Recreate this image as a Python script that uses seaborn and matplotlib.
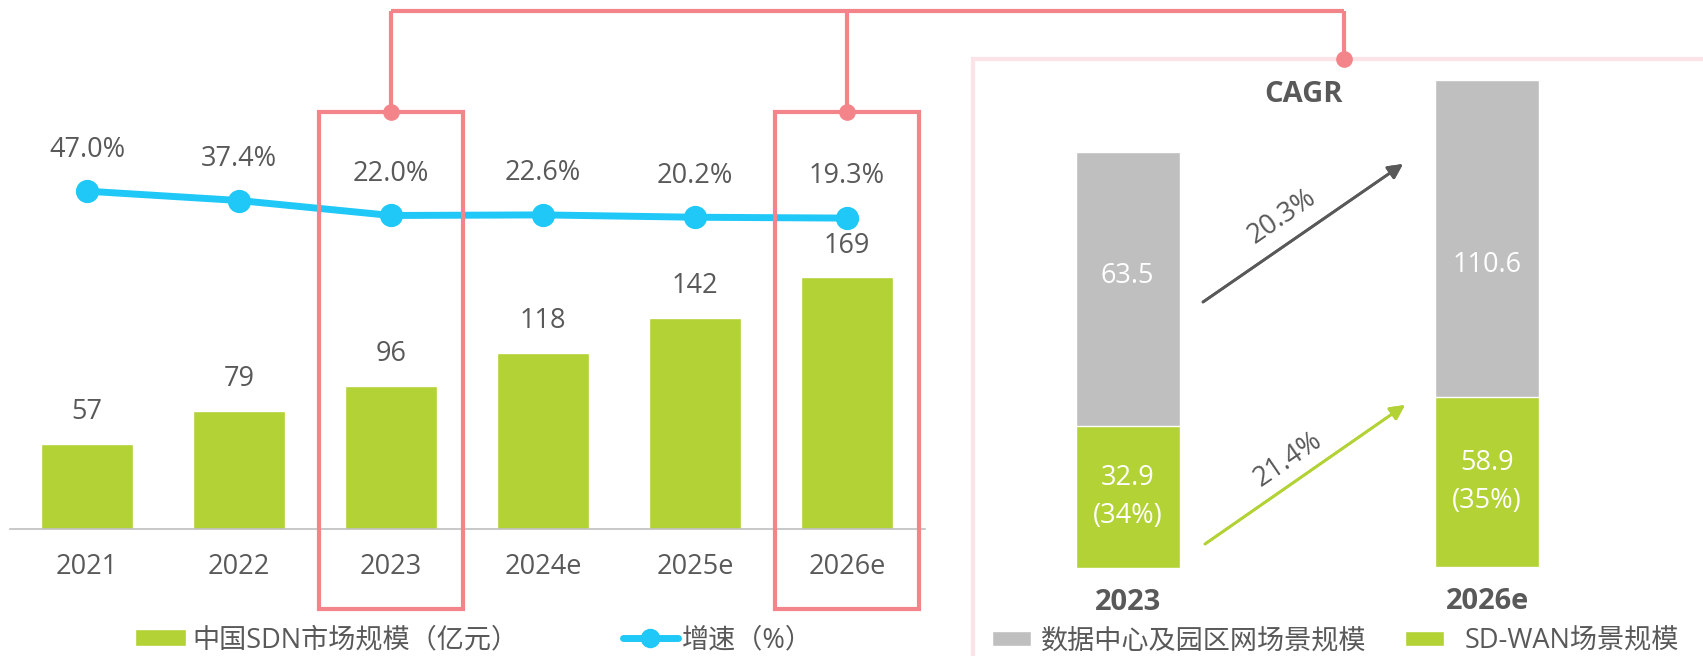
import seaborn as sns
import matplotlib.pyplot as plt
import matplotlib.transforms as mtransforms
from matplotlib.patches import Patch, Rectangle
from matplotlib.lines import Line2D
import pandas as pd

# 数据
years = ['2021', '2022', '2023', '2024e', '2025e', '2026e']
sdn_market = [57, 79, 96, 118, 142, 169]          # 中国SDN市场规模（亿元）
growth = [47.0, 37.4, 22.0, 22.6, 20.2, 19.3]     # 增速（%）

split_years = ['2023', '2026e']
dc_campus = [63.5, 110.6]    # 数据中心及园区网场景规模
sd_wan = [32.9, 58.9]        # SD-WAN场景规模
cagr_labels = ['20.3%', '21.4%']

# 颜色
green = '#B2D235'
blue = '#1FC8F7'
gray = '#BFBFBF'
red = '#F3858A'
pink = '#FCE3E7'
text_c = '#595959'

sns.set_theme(style='white')
plt.rcParams['font.family'] = ['Open Sans', 'Noto Sans CJK SC', 'DejaVu Sans']
FS = 19.5

W, H = 1703, 656
fig = plt.figure(figsize=(W / 100, H / 100), dpi=100)


def fx(x):
    return x / W


def fy(y):
    return 1 - y / H


# ---------------- 左图：柱状 + 折线 ----------------
df = pd.DataFrame({'year': years, 'market': sdn_market, 'growth': growth})

ax = fig.add_axes([fx(10), fy(528.5), (925 - 10) / W, (528.5 - 100) / H])
sns.barplot(data=df, x='year', y='market', color=green, width=0.61,
            saturation=1, ax=ax)
ax.set_xlim(-0.507, 5.513)
ax.set_ylim(0, 288.5)
ax.set_xlabel('')
ax.set_ylabel('')
ax.set_yticks([])
for s in ['top', 'left', 'right']:
    ax.spines[s].set_visible(False)
ax.spines['bottom'].set_color(gray)
ax.spines['bottom'].set_linewidth(1.2)
ax.tick_params(axis='x', length=0, pad=17.5, labelsize=FS, labelcolor=text_c)
for i, v in enumerate(df['market']):
    ax.annotate(str(v), (i, v), xytext=(0, 23), textcoords='offset points',
                ha='center', va='center', fontsize=FS, color=text_c)

ax2 = ax.twinx()
sns.pointplot(data=df, x='year', y='growth', color=blue, markers='o',
              errorbar=None, markersize=13, linewidth=5, ax=ax2)
ax2.set_ylim(-300, 140.8)
ax2.set_xlim(-0.507, 5.513)
ax2.set_yticks([])
ax2.set_ylabel('')
for s in ax2.spines:
    ax2.spines[s].set_visible(False)
for i, v in enumerate(df['growth']):
    ax2.annotate(f'{v:.1f}%', (i, v), xytext=(0, 30), textcoords='offset points',
                 ha='center', va='center', fontsize=FS, color=text_c)

# 高亮框（x 随类别位置）
blend = mtransforms.blended_transform_factory(ax.transData, fig.transFigure)
for yr in split_years:
    i = years.index(yr)
    rect = Rectangle((i - 0.474, fy(608.8)), 0.948, fy(112) - fy(608.8),
                     transform=blend, fill=False, edgecolor=red, lw=3,
                     clip_on=False, zorder=5)
    fig.add_artist(rect)

# ---------------- 右图：堆叠柱 ----------------
# 粉色外框
fig.add_artist(Rectangle((fx(973), fy(700)), fx(800), fy(59) - fy(700),
                         transform=fig.transFigure, fill=False,
                         edgecolor=pink, lw=3))

panel_boxes = [(1075.8, 1179.7, 567.8, 117.7), (1434.9, 1539.3, 566.5, 176.3)]
gray_label_shift = [9, -19]   # 灰色标签相对中心的偏移（pt）
for k, (x0, x1, yb, ymax) in enumerate(panel_boxes):
    a = fig.add_axes([fx(x0), fy(yb), (x1 - x0) / W, (yb - 60) / H])
    total = dc_campus[k] + sd_wan[k]
    sns.barplot(x=[split_years[k]], y=[total], color=gray, width=1,
                saturation=1, ax=a)
    sns.barplot(x=[split_years[k]], y=[sd_wan[k]], color=green, width=1,
                saturation=1, ax=a)
    a.set_xlim(-0.5, 0.5)
    a.set_ylim(0, ymax)
    a.axis('off')
    a.annotate(f'{dc_campus[k]}', (0, sd_wan[k] + dc_campus[k] / 2),
               xytext=(0, gray_label_shift[k]), textcoords='offset points',
               ha='center', va='center', color='white', fontsize=FS)
    a.text(0, sd_wan[k] / 2, f'{sd_wan[k]}\n({sd_wan[k] / total:.0%})',
           ha='center', va='center', color='white', fontsize=FS,
           linespacing=1.45)
    a.annotate(split_years[k], (0, 0), xytext=(0, -25),
               textcoords='offset points', ha='center', va='center',
               fontsize=21, fontweight='bold', color=text_c,
               annotation_clip=False)

fig.text(fx(1304), fy(94), 'CAGR', ha='center', va='center', fontsize=21,
         fontweight='bold', color=text_c)

arrows = [((1203, 302), (1403, 164), text_c, (1282, 217)),
          ((1205, 544), (1405, 405), green, (1288, 460))]
for (p0, p1, c, tp), lab in zip(arrows, cagr_labels):
    fig.add_artist(plt.annotate('', xy=(fx(p1[0]), fy(p1[1])),
                                xytext=(fx(p0[0]), fy(p0[1])),
                                xycoords='figure fraction',
                                textcoords='figure fraction',
                                arrowprops=dict(arrowstyle='-|>', color=c,
                                                lw=2, mutation_scale=22,
                                                shrinkA=0, shrinkB=0)))
    fig.text(fx(tp[0]), fy(tp[1]), lab, ha='center', va='center',
             rotation=34.5, rotation_mode='anchor', fontsize=FS, color=text_c)

# ---------------- 连接线 ----------------
conn_kw = dict(color=red, lw=3, transform=fig.transFigure, zorder=6,
               solid_capstyle='butt')
for yr in split_years:
    i = years.index(yr)
    xc = ax.transData.transform((i, 0))[0] / W
    fig.add_artist(Line2D([xc, xc], [fy(112), fy(11)], **conn_kw))
    fig.add_artist(Line2D([xc], [fy(112)], marker='o', ms=11, color=red,
                          transform=fig.transFigure, zorder=7))
x_left = ax.transData.transform((years.index(split_years[0]), 0))[0] / W
fig.add_artist(Line2D([x_left, fx(1344)], [fy(11), fy(11)], **conn_kw))
fig.add_artist(Line2D([fx(1344), fx(1344)], [fy(11), fy(59)], **conn_kw))
fig.add_artist(Line2D([fx(1344)], [fy(59)], marker='o', ms=11, color=red,
                      transform=fig.transFigure, zorder=7))

# ---------------- 图例 ----------------
leg_kw = dict(loc='center left', frameon=False, borderpad=0, borderaxespad=0,
              fontsize=FS, labelcolor=text_c)
fig.legend(handles=[Patch(facecolor=green)], labels=['中国SDN市场规模（亿元）'],
           bbox_to_anchor=(fx(135), fy(640)), handlelength=1.9,
           handleheight=0.59, handletextpad=0.21, **leg_kw)
fig.legend(handles=[Line2D([], [], color=blue, marker='o', lw=5, ms=13)],
           labels=['增速（%）'], bbox_to_anchor=(fx(623), fy(640)),
           handlelength=2.02, handletextpad=0.17, **leg_kw)
fig.legend(handles=[Patch(facecolor=gray)], labels=['数据中心及园区网场景规模'],
           bbox_to_anchor=(fx(992), fy(641)), handlelength=1.44,
           handleheight=0.48, handletextpad=0.38, **leg_kw)
fig.legend(handles=[Patch(facecolor=green)], labels=['SD-WAN场景规模'],
           bbox_to_anchor=(fx(1405), fy(641)), handlelength=1.44,
           handleheight=0.48, handletextpad=0.78, **leg_kw)

fig.savefig('out.png', dpi=100)
